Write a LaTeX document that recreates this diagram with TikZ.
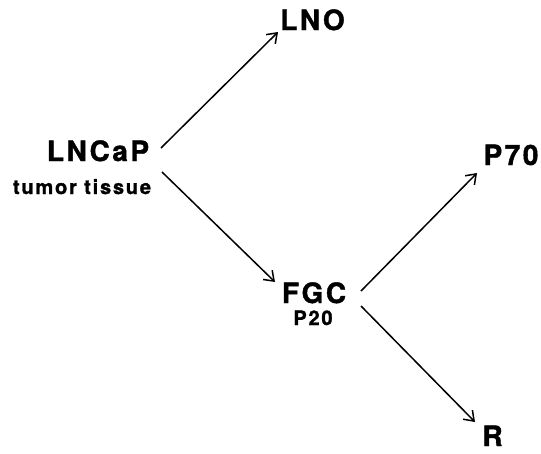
\documentclass[tikz,border=0pt]{standalone}
\usepackage{fontspec}
\setmainfont{TeX Gyre Heros}[LetterSpace=9, BoldFeatures={FakeBold=1.4}]
\usetikzlibrary{arrows.meta}
\tikzset{
  biglabel/.style={font=\fontsize{28}{28}\selectfont\bfseries, inner sep=0pt, anchor=base},
  smalllabel/.style={font=\fontsize{20}{20}\selectfont\bfseries, inner sep=0pt, anchor=base},
  arr/.style={line width=1.5pt, -{Straight Barb[length=9pt,width=13pt,line width=1.5pt]}}
}
\begin{document}
\begin{tikzpicture}[x=1pt,y=-1pt]
  \useasboundingbox (0,0) rectangle (541,453);
  % cell lines and sublines
  \node[biglabel] (lncap) at (98,161) {LNCaP};
  \node[smalllabel] (tissue) at (82,194) {tumor tissue};
  \node[biglabel] (lno) at (312.5,30) {LNO};
  \node[biglabel] (fgc) at (314,303) {FGC};
  \node[smalllabel] (p20) at (313,325) {P20};
  \node[biglabel] (p70) at (511,165) {P70};
  \node[biglabel] (r) at (492.5,446) {R};
  % derivation arrows
  \draw[arr] ([shift={(63,-13)}]lncap.base) -- ([shift={(-34.5,2)}]lno.base);
  \draw[arr] ([shift={(64,11)}]lncap.base) -- ([shift={(-39,-21)}]fgc.base);
  \draw[arr] ([shift={(47,-12)}]fgc.base) -- ([shift={(-34,8)}]p70.base);
  \draw[arr] ([shift={(47,3)}]fgc.base) -- ([shift={(-17.5,-24)}]r.base);
\end{tikzpicture}
\end{document}
